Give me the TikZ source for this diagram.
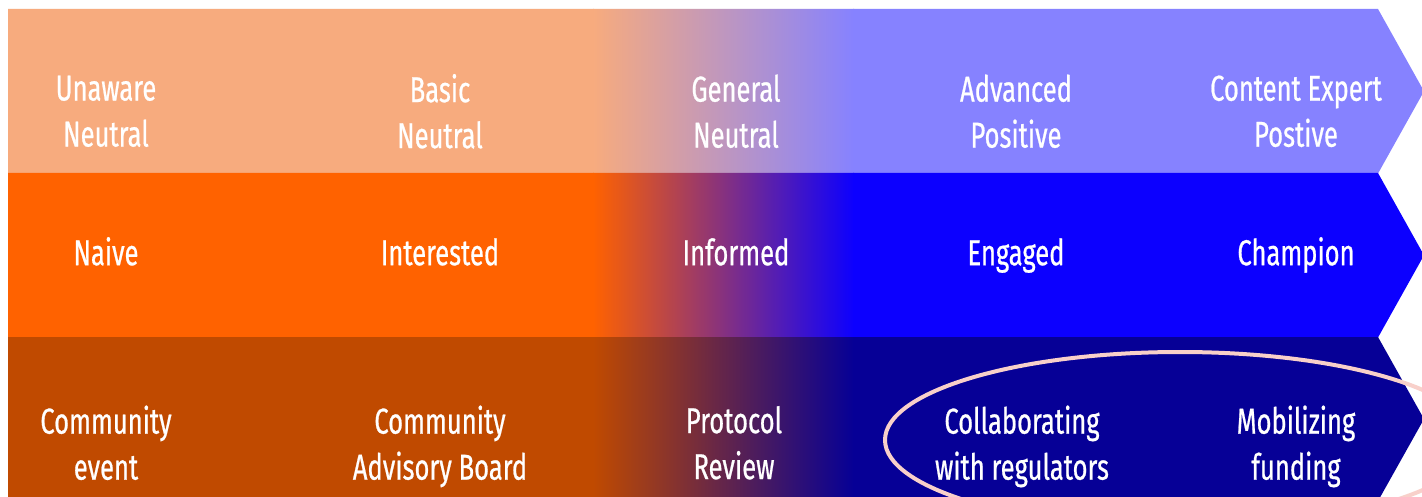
\documentclass[tikz,border=0pt]{standalone}
\usepackage{fontspec}
\setmainfont{Fira Sans}[FakeStretch=0.71, FakeBold=0.6]
\definecolor{aL}{RGB}{247,171,126}
\definecolor{aR}{RGB}{134,130,255}
\definecolor{bL}{RGB}{255,98,0}
\definecolor{bR}{RGB}{12,0,255}
\definecolor{cL}{RGB}{192,74,0}
\definecolor{cR}{RGB}{6,0,150}
\definecolor{ringc}{RGB}{248,208,202}
\tikzset{
  lbl/.style={text=white, align=center, inner sep=0pt, font=\fontsize{36}{46}\selectfont,
    execute at begin node=\strut, execute at end node=\strut},
  ring/.style={draw=ringc, line width=4pt},
}
\newcommand{\myband}[4]{%
  \begin{scope}
    \clip (8,#1) -- (1378,#1) -- (1424,{(#1+#2)/2}) -- (1378,#2) -- (8,#2) -- cycle;
    \fill[#3] (7,#1-1) rectangle (594,#2+1);
    \shade[left color=#3, right color=#4] (593,#1-1) rectangle (854,#2+1);
    \fill[#4] (853,#1-1) rectangle (1430,#2+1);
  \end{scope}}
\begin{document}
\begin{tikzpicture}[x=1pt,y=-1pt]
\useasboundingbox (0,0) rectangle (1422,497);
\clip (0,0) rectangle (1422,497);
\fill[white] (0,0) rectangle (1422,497);
\myband{9}{173.5}{aL}{aR}
\myband{173}{337.5}{bL}{bR}
\myband{337}{501}{cL}{cR}
% row 1
\node[lbl] (u1) at (106,118) {Unaware\\Neutral};
\node[lbl] (u2) at (440,118) {Basic\\Neutral};
\node[lbl] (u3) at (736,118) {General\\Neutral};
\node[lbl] (u4) at (1016,118) {Advanced\\Positive};
\node[lbl] (u5) at (1296,118) {Content Expert\\Postive};
% row 2
\node[lbl] (m1) at (106,256) {Naive};
\node[lbl] (m2) at (440,256) {Interested};
\node[lbl] (m3) at (736,256) {Informed};
\node[lbl] (m4) at (1016,256) {Engaged};
\node[lbl] (m5) at (1296,256) {Champion};
% row 3
\node[lbl] (l1) at (106,449.5) {Community\\event};
\node[lbl] (l2) at (440,449.5) {Community\\Advisory Board};
\node[lbl] (l3) at (734,449.5) {Protocol\\Review};
\node[lbl] (l4) at (1022,449.5) {Collaborating\\with regulators};
\node[lbl] (l5) at (1296,449.5) {Mobilizing\\funding};
% highlight ring
\draw[ring] (1180,440) ellipse [x radius=295, y radius=88];
\end{tikzpicture}
\end{document}
